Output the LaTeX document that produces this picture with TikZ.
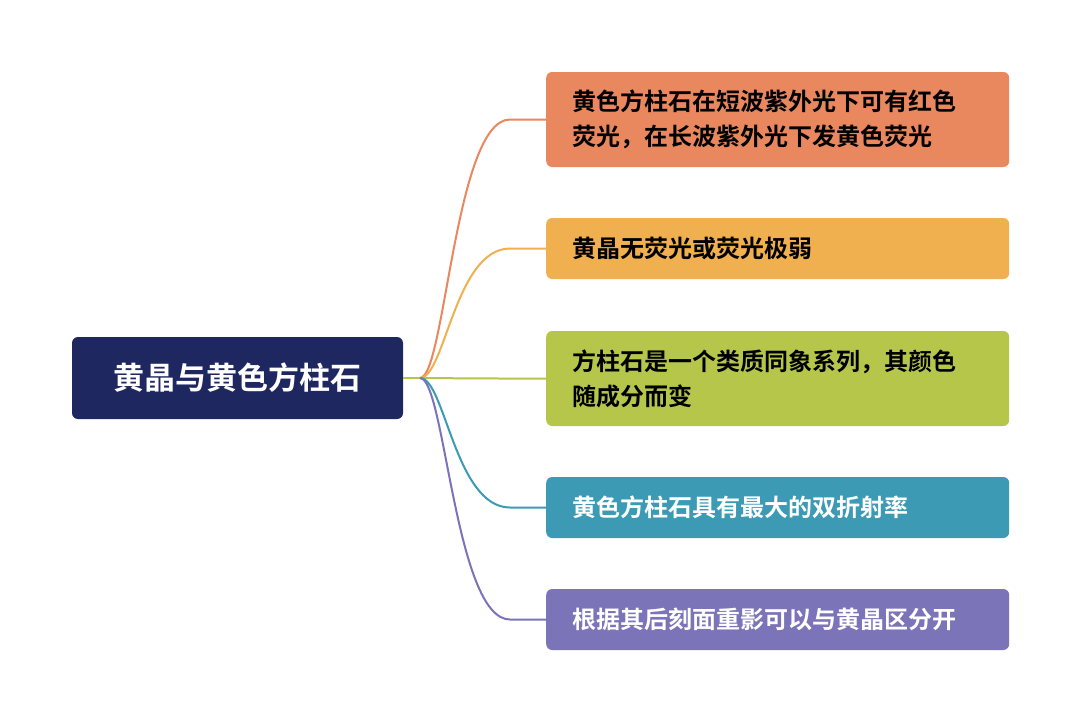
\documentclass[tikz,border=0pt]{standalone}
\usepackage{fontspec}
\setmainfont{Noto Sans CJK SC}[BoldFont={Noto Sans CJK SC Bold}]
\definecolor{navy}{HTML}{1F2761}
\definecolor{c1}{HTML}{E9875E}
\definecolor{c2}{HTML}{F0B050}
\definecolor{c3}{HTML}{B5C64A}
\definecolor{c4}{HTML}{3D9AB5}
\definecolor{c5}{HTML}{7B74B8}
\begin{document}
\begin{tikzpicture}[x=1pt,y=-1pt,
  leaf/.style={rounded corners=6pt,minimum width=463pt,text width=411pt,align=left,inner xsep=26pt,anchor=west,font=\fontsize{24}{35}\selectfont\bfseries},
  link/.style={line width=2pt}]
\useasboundingbox[fill=white] (0,0) rectangle (1080,724);
\node[fill=navy,rounded corners=6pt,minimum width=331pt,minimum height=82pt,text=white,font=\fontsize{31}{34}\selectfont\bfseries] (root) at (237.5,378) {黄晶与黄色方柱石};
\coordinate (hub) at (420,378);
\coordinate (hubc) at (445,378);
\node[leaf,fill=c1,minimum height=95pt,text=black] (b1) at (546,119.5) {黄色方柱石在短波紫外光下可有红色\\荧光，在长波紫外光下发黄色荧光};
\node[leaf,fill=c2,minimum height=61pt,text=black] (b2) at (546,248.5) {黄晶无荧光或荧光极弱};
\node[leaf,fill=c3,minimum height=95pt,text=black] (b3) at (546,378.5) {方柱石是一个类质同象系列，其颜色\\随成分而变};
\node[leaf,fill=c4,minimum height=61pt,text=white] (b4) at (546,507.5) {黄色方柱石具有最大的双折射率};
\node[leaf,fill=c5,minimum height=61pt,text=white] (b5) at (546,619.5) {根据其后刻面重影可以与黄晶区分开};
\draw[link,c3] (root.east) -- (hub);
\foreach \b/\c in {b1/c1,b2/c2,b3/c3,b4/c4,b5/c5}{
  \coordinate (k) at ([xshift=-91pt]\b.west);
  \coordinate (e) at ([xshift=-36pt]\b.west);
  \draw[link,\c] (hub) .. controls (hubc) and (k) .. (e) -- (\b.west);
}
\end{tikzpicture}
\end{document}
